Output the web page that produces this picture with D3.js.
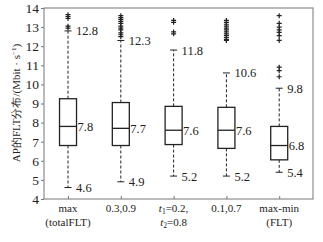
<!DOCTYPE html>
<html><head><meta charset="utf-8">
<script src="https://cdn.jsdelivr.net/npm/d3@7"></script>
<style>body{margin:0;background:#fff}svg{display:block}</style>
</head><body><svg id="c" width="323" height="242"></svg>
<script>
const categories = ["max|(totalFLT)", "0.3,0.9", "t1", "0.1,0.7", "max-min|(FLT)"];
const whiskerLow  = [4.6, 4.9, 5.2, 5.2, 5.4];
const q1          = [6.8, 6.8, 6.85, 6.65, 6.05];
const median      = [7.8, 7.7, 7.6, 7.6, 6.8];
const q3          = [9.25, 9.05, 8.85, 8.8, 7.8];
const whiskerHigh = [12.8, 12.3, 11.8, 10.6, 9.8];
const outliers = [
  [13.65, 13.55, 13.45, 13.05, 12.95],
  [13.6, 13.5, 13.4, 13.3, 13.2, 13.05, 12.95, 12.85, 12.7, 12.6, 12.5],
  [13.35, 13.25, 12.75, 12.65],
  [13.35, 13.25, 13.15, 13.05, 12.95, 12.85, 12.75, 12.65, 12.55, 12.45, 12.35, 12.3],
  [13.6, 13.2, 13.0, 12.85, 12.72, 12.55, 12.3, 10.9, 10.72, 10.4]
];
const yTicks = [4,5,6,7,8,9,10,11,12,13,14];

const svg = d3.select("#c");
const L = 44, R = 313, T = 8, B = 199;
const x = d3.scaleLinear().domain([0.545, 5.64]).range([L, R]);
const y = d3.scaleLinear().domain([4, 14]).range([B, T]);
const font = "Liberation Serif";

// frame
svg.append("rect").attr("x", L).attr("y", T).attr("width", R - L).attr("height", B - T)
  .attr("fill", "none").attr("stroke", "#777").attr("stroke-width", 1);

// y axis
const ya = svg.append("g").attr("transform", `translate(${L},0)`)
  .call(d3.axisLeft(y).tickValues(yTicks).tickSize(3).tickPadding(2).tickFormat(d3.format("d")));
ya.attr("font-family", font).attr("font-size", 13.5);
ya.select(".domain").remove();
ya.selectAll("line").attr("stroke", "#777");
ya.selectAll("text").style("font-family", font).style("font-size", "13.5px").attr("fill", "#222");

// x axis ticks
const xa = svg.append("g").attr("transform", `translate(0,${B})`)
  .call(d3.axisBottom(x).tickValues([1,2,3,4,5]).tickSize(-3).tickFormat(""));
xa.select(".domain").remove();
xa.selectAll("line").attr("stroke", "#777");

const txt = (xx, yy, size) => svg.append("text").attr("x", xx).attr("y", yy)
  .style("font-family", font).style("font-size", size + "px").attr("fill", "#222");

// x labels
categories.forEach((c, i) => {
  const cx = x(i + 1);
  const t = txt(cx, 212, 11).attr("text-anchor", "middle");
  if (c === "t1") {
    t.append("tspan").style("font-style", "italic").text("t");
    t.append("tspan").style("font-size", "7.5px").attr("dy", 2).text("1");
    t.append("tspan").attr("dy", -2).text("=0.2,");
    const t2 = txt(cx, 226, 11).attr("text-anchor", "middle");
    t2.append("tspan").style("font-style", "italic").text("t");
    t2.append("tspan").style("font-size", "7.5px").attr("dy", 2).text("2");
    t2.append("tspan").attr("dy", -2).text("=0.8");
  } else {
    const parts = c.split("|");
    t.text(parts[0]);
    if (parts[1]) txt(cx, 226, 11).attr("text-anchor", "middle").text(parts[1]);
  }
});

// y title
const yt = svg.append("text").attr("transform", `translate(20,103) rotate(-90)`)
  .attr("text-anchor", "middle").style("font-family", font).style("font-size", "11px").attr("fill", "#222");
yt.append("tspan").text("AP的FLT分布/(Mbit · s");
yt.append("tspan").style("font-size", "7px").attr("dy", -4).text("−1");
yt.append("tspan").attr("dy", 4).text(")");

// boxes
const bw = 17, cap = 7;
const lab = (cx, v, dx) => txt(cx + dx, y(v) + 4.5, 12.5).text(d3.format(".1f")(v));

categories.forEach((c, i) => {
  const cx = x(i + 1);
  const g = svg.append("g").attr("stroke", "#222").attr("fill", "none");
  g.append("line").attr("x1", cx).attr("x2", cx).attr("y1", y(q3[i])).attr("y2", y(whiskerHigh[i]))
    .attr("stroke-dasharray", "3,2");
  g.append("line").attr("x1", cx).attr("x2", cx).attr("y1", y(q1[i])).attr("y2", y(whiskerLow[i]))
    .attr("stroke-dasharray", "3,2");
  g.append("line").attr("x1", cx - cap / 2).attr("x2", cx + cap / 2).attr("y1", y(whiskerHigh[i])).attr("y2", y(whiskerHigh[i]));
  g.append("line").attr("x1", cx - cap / 2).attr("x2", cx + cap / 2).attr("y1", y(whiskerLow[i])).attr("y2", y(whiskerLow[i]));
  g.append("rect").attr("x", cx - bw / 2).attr("y", y(q3[i])).attr("width", bw)
    .attr("height", y(q1[i]) - y(q3[i])).attr("stroke-width", 1.3);
  g.append("line").attr("x1", cx - bw / 2).attr("x2", cx + bw / 2).attr("y1", y(median[i])).attr("y2", y(median[i]))
    .attr("stroke-width", 1.3);
  outliers[i].forEach(v => {
    g.append("path").attr("d", `M${cx - 2.5},${y(v)}h5M${cx},${y(v) - 2.5}v5`).attr("stroke-width", 1.2);
  });
  lab(cx, whiskerHigh[i], 8);
  lab(cx, whiskerLow[i], 8);
  lab(cx, median[i], bw / 2 + 1);
});
</script></body></html>
